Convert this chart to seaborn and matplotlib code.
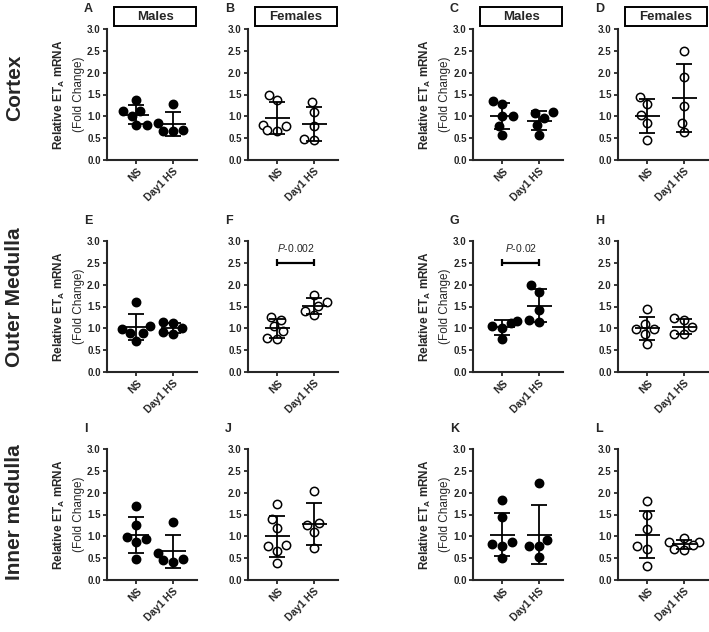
import matplotlib
matplotlib.use("Agg")
import matplotlib.pyplot as plt
import numpy as np
import pandas as pd
import seaborn as sns
from matplotlib.patches import Rectangle

# categories / labels
groups = ["NS", "Day1 HS"]
row_titles = ["Cortex", "Outer Medulla", "Inner medulla"]
col_titles = ["Males", "Females", "Males", "Females"]
col_filled = [True, False, True, False]
letters = ["A", "B", "C", "D", "E", "F", "G", "H", "I", "J", "K", "L"]

# relative ET_A mRNA (fold change)
a_ns = [1.38, 1.13, 1.12, 1.00, 0.80, 0.80]
a_hs = [1.28, 0.85, 0.68, 0.66, 0.66]
b_ns = [1.50, 1.37, 0.80, 0.78, 0.68, 0.67]
b_hs = [1.32, 1.10, 0.77, 0.45, 0.48]
c_ns = [1.28, 1.36, 1.00, 1.00, 0.79, 0.58]
c_hs = [1.07, 1.09, 0.96, 0.80, 0.58]
d_ns = [1.44, 1.28, 1.02, 0.85, 0.45]
d_hs = [2.50, 1.90, 1.23, 0.85, 0.63]
e_ns = [1.60, 1.05, 0.98, 0.90, 0.90, 0.72]
e_hs = [1.15, 1.12, 1.00, 0.92, 0.88]
f_ns = [1.27, 1.20, 1.05, 0.95, 0.78, 0.76]
f_hs = [1.76, 1.60, 1.51, 1.40, 1.30]
g_ns = [1.17, 1.13, 1.05, 1.00, 0.75]
g_hs = [1.99, 1.84, 1.42, 1.15, 1.19]
h_ns = [1.44, 1.10, 0.98, 0.98, 0.87, 0.65]
h_hs = [1.23, 1.19, 1.02, 0.88, 0.88]
i_ns = [1.70, 1.25, 0.98, 0.95, 0.88, 0.47]
i_hs = [1.32, 0.62, 0.47, 0.45, 0.42]
j_ns = [1.74, 1.39, 1.20, 0.81, 0.78, 0.67, 0.39]
j_hs = [2.04, 1.26, 1.30, 1.10, 0.73]
k_ns = [1.84, 1.44, 0.86, 0.83, 0.77, 0.50]
k_hs = [2.22, 0.91, 0.77, 0.77, 0.52]
l_ns = [1.80, 1.48, 1.16, 0.77, 0.71, 0.33]
l_hs = [0.96, 0.88, 0.86, 0.80, 0.72, 0.68]

panel_data = [
    (a_ns, a_hs), (b_ns, b_hs), (c_ns, c_hs), (d_ns, d_hs),
    (e_ns, e_hs), (f_ns, f_hs), (g_ns, g_hs), (h_ns, h_hs),
    (i_ns, i_hs), (j_ns, j_hs), (k_ns, k_hs), (l_ns, l_hs),
]
p_values = {"F": "0.002", "G": "0.02"}

sns.set_style("ticks")
plt.rcParams["font.family"] = ["Liberation Sans", "DejaVu Sans"]
plt.rcParams["mathtext.fontset"] = "custom"
plt.rcParams["mathtext.rm"] = "Liberation Sans"
plt.rcParams["mathtext.it"] = "Liberation Sans:italic"
plt.rcParams["mathtext.bf"] = "Liberation Sans:bold"

W, H = 709, 632
fig = plt.figure(figsize=(W / 100, H / 100), dpi=100)

# layout in pixels
col_left = [107, 248, 473, 618]
row_bottom = [160, 372, 580]
ax_w, ax_h = 90, 131
lw = 1.3

for idx, (ns, hs) in enumerate(panel_data):
    r, c = divmod(idx, 4)
    left, bottom = col_left[c], row_bottom[r]
    top = bottom - ax_h
    ax = fig.add_axes([left / W, 1 - bottom / H, ax_w / W, ax_h / H])

    df = pd.DataFrame({"group": ["NS"] * len(ns) + ["Day1 HS"] * len(hs),
                       "value": ns + hs})
    face = "black" if col_filled[c] else "white"
    sns.swarmplot(data=df, x="group", y="value", order=groups, ax=ax,
                  color=face, edgecolor="black", linewidth=1.1, size=6,
                  zorder=3)

    # mean +/- SD
    stats = df.groupby("group")["value"].agg(["mean", "std"]).reindex(groups)
    for k, (m, s) in enumerate(stats.itertuples(index=False)):
        ax.hlines(m, k - 0.34, k + 0.34, color="black", lw=lw, zorder=4)
        ax.vlines(k, m - s, m + s, color="black", lw=lw, zorder=4)
        ax.hlines([m - s, m + s], k - 0.22, k + 0.22, color="black", lw=lw, zorder=4)

    letter = letters[idx]
    if letter in p_values:
        ax.hlines(2.5, 0, 1, color="black", lw=1.6)
        ax.vlines([0, 1], 2.42, 2.58, color="black", lw=1.6)
        ax.text(0.5, 2.85, r"$\mathit{P}$-" + p_values[letter], ha="center",
                va="center", fontsize=7.5)

    ax.set_ylim(0, 3)
    ax.set_xlim(-0.8, 1.65)
    ax.set_yticks(np.arange(0, 3.01, 0.5))
    ax.set_yticklabels([f"{v:.1f}" for v in np.arange(0, 3.01, 0.5)],
                       fontweight="bold", fontsize=7)
    ax.set_xticks([0, 1])
    ax.set_xticklabels(groups, rotation=45, ha="right", rotation_mode="anchor",
                       fontweight="bold", fontsize=7.5)
    ax.set_xlabel("")
    ax.set_ylabel("")
    sns.despine(ax=ax)
    for sp in ["left", "bottom"]:
        ax.spines[sp].set_linewidth(1.5)
    ax.tick_params(width=1.3, length=3, pad=1.5)

    if c in (0, 2):
        ax.text(-48 / ax_w, 0.5, r"Relative ET$_{\mathbf{A}}$ mRNA",
                transform=ax.transAxes, rotation=90, ha="center", va="center",
                fontweight="bold", fontsize=8.5)
        ax.text(-28 / ax_w, 0.5, "(Fold Change)", transform=ax.transAxes,
                rotation=90, ha="center", va="center", fontsize=8.5)

    fig.text((left - 23) / W, 1 - (top - 20) / H, letter, fontweight="bold",
             fontsize=9, ha="left", va="center")

# sex boxes above top row
for c, title in enumerate(col_titles):
    x0 = col_left[c] + 7
    x1 = col_left[c] + ax_w - 1
    y0, y1 = 7, 26
    fig.add_artist(Rectangle((x0 / W, 1 - y1 / H), (x1 - x0) / W, (y1 - y0) / H,
                             transform=fig.transFigure, fill=False,
                             edgecolor="black", lw=1.4))
    fig.text((x0 + x1) / 2 / W, 1 - (y0 + y1) / 2 / H, title, ha="center",
             va="center", fontweight="bold", fontsize=9.5)

# tissue labels
for r, (title, yc) in enumerate(zip(row_titles, [88, 297, 512])):
    fig.text(15 / W, 1 - yc / H, title, rotation=90, ha="center", va="center",
             fontweight="bold", fontsize=15)

fig.savefig("out.png", dpi=100)
